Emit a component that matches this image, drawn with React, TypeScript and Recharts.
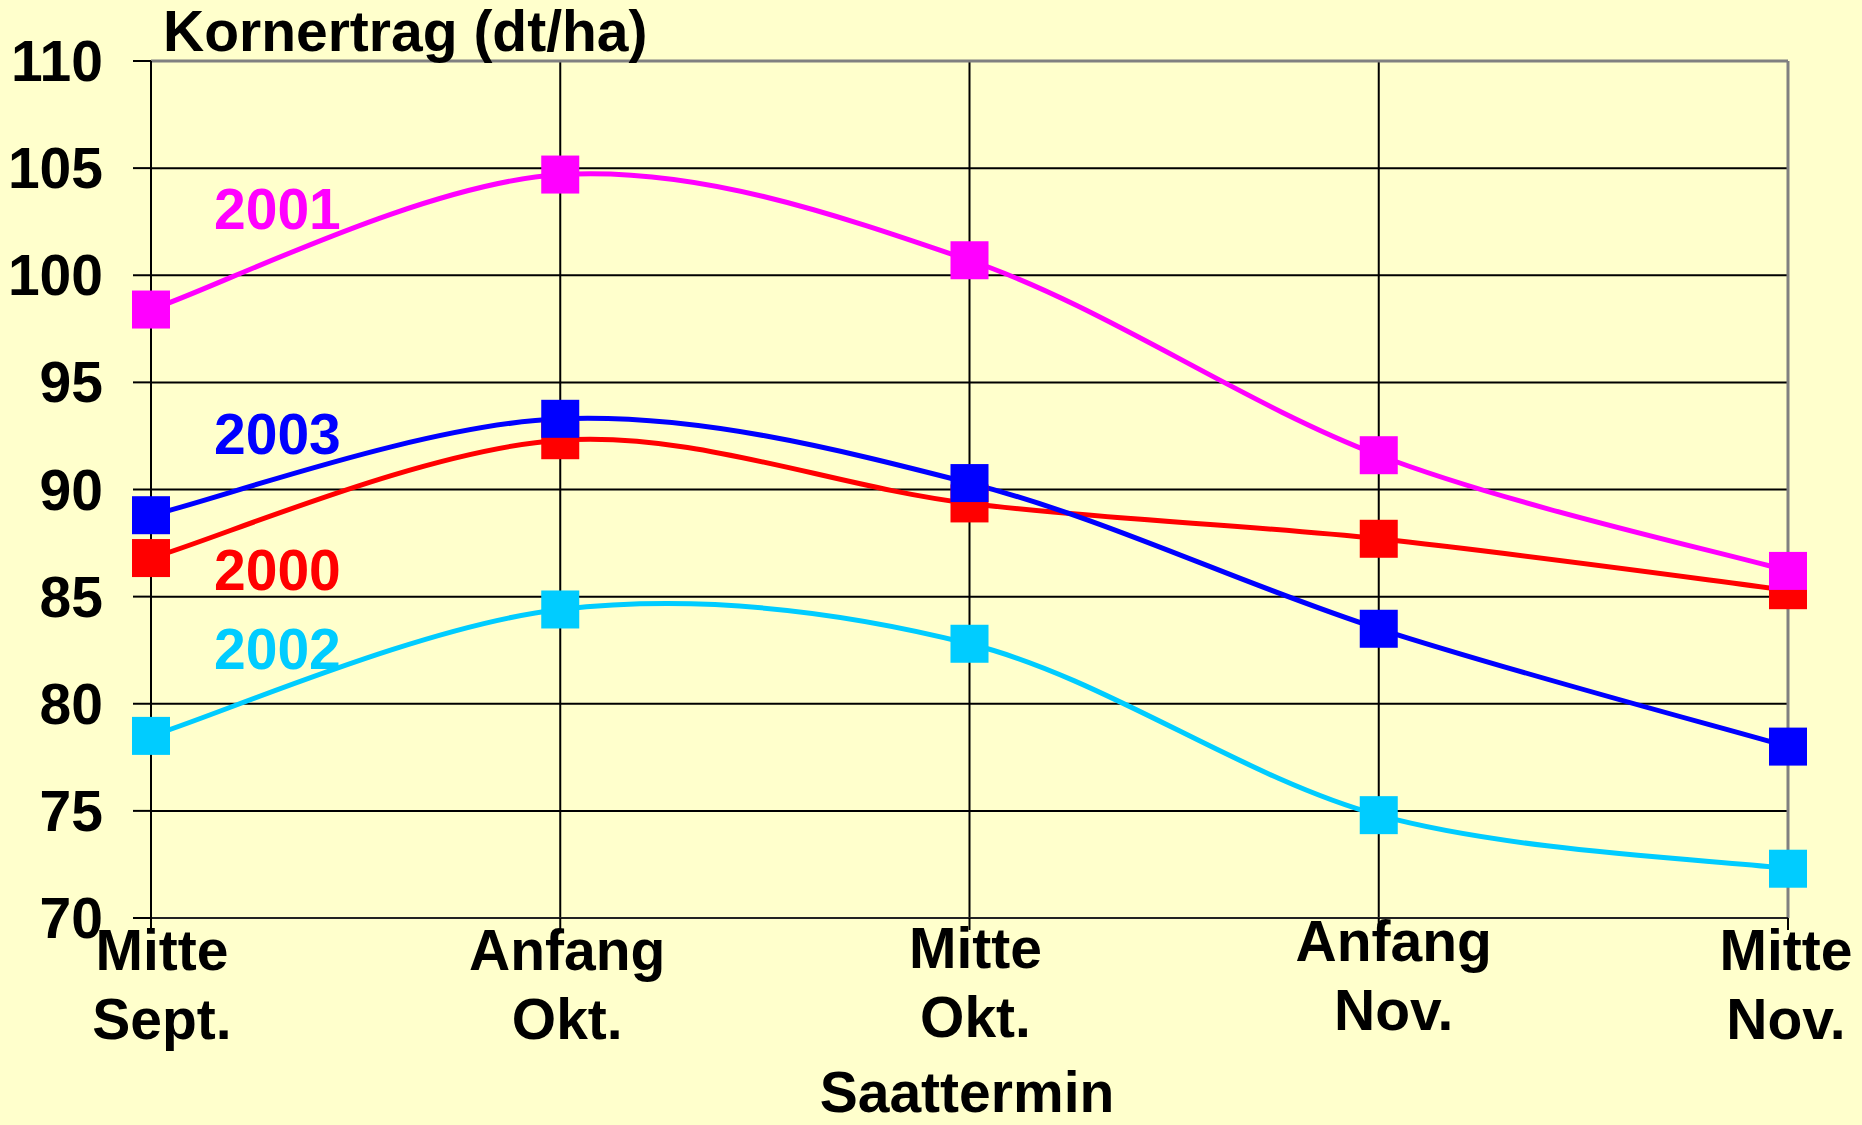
import React from "react";
import {
  LineChart,
  Line,
  XAxis,
  YAxis,
  CartesianGrid,
  ReferenceLine,
} from "recharts";

const categories = ["Mitte Sept.", "Anfang Okt.", "Mitte Okt.", "Anfang Nov.", "Mitte Nov."];
const yield2000 = [86.8, 92.3, 89.35, 87.7, 85.3];
const yield2001 = [98.4, 104.7, 100.7, 91.6, 86.2];
const yield2002 = [78.5, 84.4, 82.8, 74.8, 72.3];
const yield2003 = [88.8, 93.3, 90.3, 83.5, 78.0];
const yTicks = [70, 75, 80, 85, 90, 95, 100, 105, 110];
const seriesNames = ["2000", "2001", "2002", "2003"];

const data = categories.map((c, i) => ({
  cat: c,
  y2000: yield2000[i],
  y2001: yield2001[i],
  y2002: yield2002[i],
  y2003: yield2003[i],
}));

const FONT = "'Liberation Sans', Arial, Helvetica, sans-serif";
const FS = 57;
const BG = "#FFFFCC";
const COLORS: Record<string, string> = {
  "2000": "#FF0000",
  "2001": "#FF00FF",
  "2002": "#00CCFF",
  "2003": "#0000FF",
};

// label nudges (layout only)
const tickDx = [11, 7, 6, 15, -2];
const tickDy = [0, 0, -2, -9, 0];

// Excel-like smoothing (Catmull-Rom / cardinal tension 0)
function excelCurve(context: any) {
  let pts: number[][] = [];
  return {
    areaStart() {},
    areaEnd() {},
    lineStart() {
      pts = [];
    },
    point(x: number, y: number) {
      pts.push([+x, +y]);
    },
    lineEnd() {
      const n = pts.length;
      if (!n) return;
      context.moveTo(pts[0][0], pts[0][1]);
      for (let i = 0; i < n - 1; i++) {
        const p0 = pts[Math.max(i - 1, 0)];
        const p1 = pts[i];
        const p2 = pts[i + 1];
        const p3 = pts[Math.min(i + 2, n - 1)];
        const c1x = p1[0] + (p2[0] - p0[0]) / 6;
        const c1y = p1[1] + (p2[1] - p0[1]) / 6;
        const c2x = p2[0] - (p3[0] - p1[0]) / 6;
        const c2y = p2[1] - (p3[1] - p1[1]) / 6;
        context.bezierCurveTo(c1x, c1y, c2x, c2y, p2[0], p2[1]);
      }
    },
  };
}

const makeDot = (color: string) => (props: any) => {
  const { cx, cy, index } = props;
  return (
    <rect
      key={`d-${color}-${index}`}
      x={cx - 19}
      y={cy - 19}
      width={38}
      height={38}
      fill={color}
    />
  );
};

const YTick = (props: any) => {
  const { x, y, payload } = props;
  return (
    <text
      x={x}
      y={y}
      dy={20}
      textAnchor="end"
      fontFamily={FONT}
      fontWeight="bold"
      fontSize={FS}
      fill="#000"
    >
      {payload.value}
    </text>
  );
};

const XTick = (props: any) => {
  const { x, y, payload, index } = props;
  const parts = String(payload.value).split(" ");
  const tx = x + (tickDx[index] ?? 0);
  const ty = y + (tickDy[index] ?? 0);
  return (
    <text
      x={tx}
      y={ty}
      textAnchor="middle"
      fontFamily={FONT}
      fontWeight="bold"
      fontSize={FS}
      fill="#000"
    >
      <tspan x={tx} dy={40}>
        {parts[0]}
      </tspan>
      <tspan x={tx} dy={69}>
        {parts[1]}
      </tspan>
    </text>
  );
};

const labelPos: Record<string, number> = {
  "2001": 229,
  "2003": 454,
  "2000": 590,
  "2002": 669,
};

export default function App() {
  return (
    <div
      style={{
        position: "absolute",
        left: 0,
        top: 0,
        width: 1862,
        height: 1125,
        background: BG,
        overflow: "hidden",
      }}
    >
      <LineChart
        width={1862}
        height={1125}
        data={data}
        margin={{ top: 61, right: 74, bottom: 0, left: 0 }}
      >
        <CartesianGrid horizontal={true} vertical={false} stroke="#000" strokeWidth={2} />
        <CartesianGrid horizontal={false} vertical={true} stroke="#000" strokeWidth={2} />
        <XAxis
          dataKey="cat"
          height={207}
          axisLine={{ stroke: "#222", strokeWidth: 2 }}
          tickLine={{ stroke: "#000", strokeWidth: 2 }}
          tickSize={12}
          tickMargin={0}
          tick={<XTick />}
          interval={0}
        />
        <YAxis
          width={151}
          domain={[70, 110]}
          ticks={yTicks}
          type="number"
          allowDataOverflow
          axisLine={{ stroke: "#000", strokeWidth: 2 }}
          tickLine={{ stroke: "#000", strokeWidth: 2 }}
          tickSize={18}
          tickMargin={30}
          tick={<YTick />}
          interval={0}
        />
        <ReferenceLine y={110} stroke="#808080" strokeWidth={3} />
        <ReferenceLine x="Mitte Nov." stroke="#808080" strokeWidth={3} />
        <Line
          dataKey="y2000"
          type={excelCurve as any}
          stroke={COLORS["2000"]}
          strokeWidth={5}
          dot={makeDot(COLORS["2000"])}
          isAnimationActive={false}
        />
        <Line
          dataKey="y2002"
          type={excelCurve as any}
          stroke={COLORS["2002"]}
          strokeWidth={5}
          dot={makeDot(COLORS["2002"])}
          isAnimationActive={false}
        />
        <Line
          dataKey="y2003"
          type={excelCurve as any}
          stroke={COLORS["2003"]}
          strokeWidth={5}
          dot={makeDot(COLORS["2003"])}
          isAnimationActive={false}
        />
        <Line
          dataKey="y2001"
          type={excelCurve as any}
          stroke={COLORS["2001"]}
          strokeWidth={5}
          dot={makeDot(COLORS["2001"])}
          isAnimationActive={false}
        />
      </LineChart>
      <svg
        width={1862}
        height={1125}
        style={{ position: "absolute", left: 0, top: 0, pointerEvents: "none" }}
      >
        <text x={163} y={51} fontFamily={FONT} fontWeight="bold" fontSize={FS} fill="#000">
          Kornertrag (dt/ha)
        </text>
        {seriesNames.map((s) => (
          <text
            key={s}
            x={214}
            y={labelPos[s]}
            fontFamily={FONT}
            fontWeight="bold"
            fontSize={FS}
            fill={COLORS[s]}
          >
            {s}
          </text>
        ))}
        <text
          x={967}
          y={1112}
          textAnchor="middle"
          fontFamily={FONT}
          fontWeight="bold"
          fontSize={FS}
          fill="#000"
        >
          Saattermin
        </text>
      </svg>
    </div>
  );
}
